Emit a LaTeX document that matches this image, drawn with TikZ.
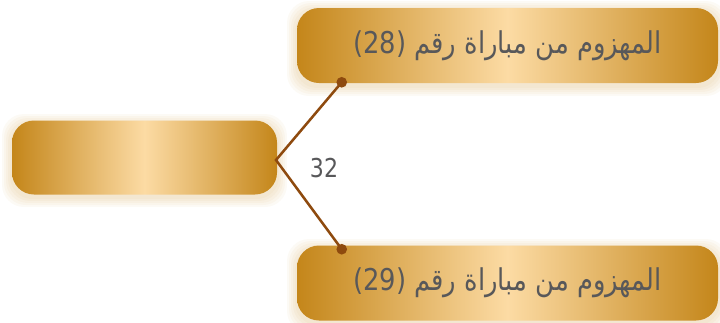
\documentclass[tikz,border=0pt]{standalone}
\usepackage{fontspec}
\usepackage{tikz}
\usetikzlibrary{calc, positioning}
\TeXXeTstate=1
\newfontfamily\arabicfont[Script=Arabic, FakeStretch=0.86]{DejaVu Sans}
\newfontfamily\numfont[FakeStretch=0.85]{DejaVu Sans}
\definecolor{goldedge}{HTML}{C4861A}
\definecolor{goldmid}{HTML}{FCDBA4}
\definecolor{linkbrown}{HTML}{8E4A0E}
\definecolor{labelgray}{HTML}{58585A}
\tikzset{
  matchbox/.style={rounded corners=16.5pt, left color=goldedge, right color=goldedge, middle color=goldmid, text=labelgray, font=\arabicfont\fontsize{22.5}{26}\selectfont},
  glow/.style={rounded corners=16.5pt, fill=goldedge, opacity=0.045},
  link/.style={draw=linkbrown, line width=1.9pt},
  linkdot/.style={circle, fill=linkbrown, inner sep=0pt, minimum size=8pt}
}

\begin{document}
\begin{tikzpicture}[x=0.75pt, y=-0.75pt]
                        \useasboundingbox (0, 0) rectangle (720, 322);
                        % soft glow behind the boxes
                        \foreach \g in {2, 4, 6, 8, 10} {
                            \fill[glow] (12-\g, 121-\g+3) rectangle (277+\g, 194+\g+3);
                            \fill[glow] (297-\g, 8-\g+3) rectangle (718+\g, 83+\g+3);
                            \fill[glow] (297-\g, 246-\g+3) rectangle (718+\g, 320+\g+3);
                        }
                        \node[matchbox, minimum width=198.75pt, minimum height=55.5pt] (seed) at (144.5, 157.5) {};
                        \node[matchbox, minimum width=315.75pt, minimum height=56.25pt] (upper) at (507.5, 45.5) {\beginR المهزوم من مباراة رقم \beginL(28)\endL\endR};
                        \node[matchbox, minimum width=315.75pt, minimum height=56.25pt] (lower) at (507.5, 283) {\beginR المهزوم من مباراة رقم \beginL(29)\endL\endR};
                        \coordinate (fork) at (276, 160);
                        \node[linkdot] (updot) at ($(upper.south west)+(45, -1)$) {};
                        \node[linkdot] (lowdot) at ($(lower.north west)+(45, 4)$) {};
                        \node[text=labelgray, font=\numfont\fontsize{19.5}{22}\selectfont] (round) at (324, 168) {32};
                        \draw[link]
                        (updot.center) -- (fork) -- (lowdot.center);
                    \end{tikzpicture}
\end{document}
